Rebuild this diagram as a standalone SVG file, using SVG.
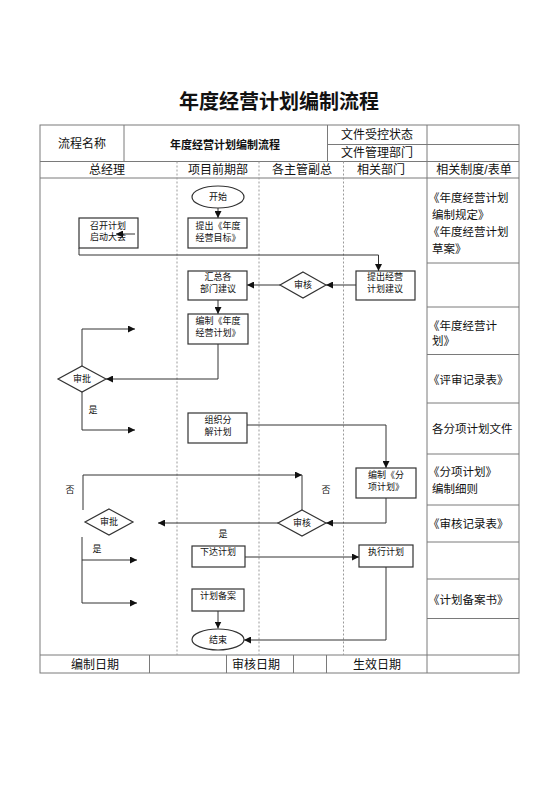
<svg xmlns="http://www.w3.org/2000/svg" width="560" height="792" viewBox="0 0 560 792">
<style>
text{font-family:"Liberation Sans","Noto Sans CJK SC",sans-serif;fill:#111;dominant-baseline:central;text-anchor:middle}
.t{stroke:#7a7a7a;stroke-width:1;fill:none}
.lane{stroke:#9a9a9a;stroke-width:1;stroke-dasharray:2 2;fill:none}
.h{font-size:12px}
.r{font-size:11.5px;text-anchor:start}
.n{font-size:9px}
.box{fill:#fff;stroke:#333;stroke-width:1.2}
.c{stroke:#333;stroke-width:1;fill:none}
.ca{stroke:#333;stroke-width:1;fill:none;marker-end:url(#ah)}
</style>
<defs>
<marker id="ah" viewBox="0 0 10 10" refX="10" refY="5" markerWidth="7" markerHeight="7" markerUnits="userSpaceOnUse" orient="auto"><path d="M0,0 L10,5 L0,10 z" fill="#111"/></marker>
</defs>
<rect width="560" height="792" fill="#fff"/>
<text x="279" y="102" style="font-size:20px;font-weight:bold">年度经营计划编制流程</text>
<g id="table">
<rect class="t" x="40" y="125" width="479" height="548"/>
<path class="t" d="M327.5,144.5H519 M40,161.5H519 M40,178H519 M40,655H519 M124,125V161.5 M327.5,125V161.5 M427,125V673 M149.5,655V673 M226.5,655V673 M293.5,655V673 M326.5,655V673"/>
<path class="t" d="M427,263H519 M427,307H519 M427,354.5H519 M427,403H519 M427,454H519 M427,505H519 M427,542H519 M427,579H519 M427,618.5H519"/>
<path class="lane" d="M177,161.5V655 M259,161.5V655 M343.5,161.5V655"/>
<text class="h" x="82" y="144">流程名称</text>
<text x="225" y="145" style="font-size:11px;font-weight:bold">年度经营计划编制流程</text>
<text class="h" x="377" y="135">文件受控状态</text>
<text class="h" x="377" y="153">文件管理部门</text>
<text class="h" x="107" y="170">总经理</text>
<text class="h" x="218" y="170">项目前期部</text>
<text class="h" x="302" y="170">各主管副总</text>
<text class="h" x="381" y="170">相关部门</text>
<text class="h" x="474" y="170">相关制度/表单</text>
<text class="r" x="428" y="198">《年度经营计划</text>
<text class="r" x="432" y="215">编制规定》</text>
<text class="r" x="428" y="232">《年度经营计划</text>
<text class="r" x="432" y="249">草案》</text>
<text class="r" x="428" y="326">《年度经营计</text>
<text class="r" x="432" y="341">划》</text>
<text class="r" x="428" y="380">《评审记录表》</text>
<text class="r" x="432" y="429">各分项计划文件</text>
<text class="r" x="428" y="472">《分项计划》</text>
<text class="r" x="432" y="489">编制细则</text>
<text class="r" x="428" y="524">《审核记录表》</text>
<text class="r" x="428" y="600">《计划备案书》</text>
<text class="h" x="95" y="665">编制日期</text>
<text class="h" x="256" y="665">审核日期</text>
<text class="h" x="377" y="665">生效日期</text>
</g>
<g id="connectors">
<path class="ca" d="M218,208V218"/>
<path class="ca" d="M135,234H116"/>
<path class="ca" d="M79,248V255H378.5V271"/>
<path class="ca" d="M356,285H326"/>
<path class="ca" d="M280,285H247"/>
<path class="ca" d="M218,300V314"/>
<path class="ca" d="M218,344V379H106"/>
<path class="ca" d="M82,366V329H135"/>
<path class="ca" d="M82,392V430H135"/>
<path class="ca" d="M247,425H386V468"/>
<path class="ca" d="M386,498V523H326"/>
<path class="ca" d="M278,523H158"/>
<path class="ca" d="M83,510V475H302"/>
<path class="c" d="M302,475V510"/>
<path class="ca" d="M82,537V603H137"/>
<path class="ca" d="M82,560H137"/>
<path class="ca" d="M245,557H359"/>
<path class="ca" d="M386,567V640H244"/>
<path class="ca" d="M218,611V628.5"/>
<text class="n" x="93" y="410">是</text>
<text class="n" x="70" y="490">否</text>
<text class="n" x="326" y="490">否</text>
<text class="n" x="223" y="534">是</text>
<text class="n" x="97" y="549">是</text>
</g>
<g id="start"><ellipse class="box" cx="218" cy="197" rx="26" ry="11"/><text class="n" x="218" y="197">开始</text></g>
<g id="n1"><rect class="box" x="79" y="218" width="59" height="30" style="fill:none"/><text class="n" x="108" y="226">召开计划</text><text class="n" x="108" y="237">启动大会</text></g>
<g id="n2"><rect class="box" x="188" y="218" width="59" height="30"/><text class="n" x="218" y="226">提出《年度</text><text class="n" x="218" y="238">经营目标》</text></g>
<g id="n3"><rect class="box" x="356" y="271" width="59" height="29"/><text class="n" x="385" y="277">提出经营</text><text class="n" x="385" y="289">计划建议</text></g>
<g id="d1"><polygon class="box" points="303,272 326,285 303,298 280,285"/><text class="n" x="303" y="285">审核</text></g>
<g id="n4"><rect class="box" x="188" y="271" width="59" height="29"/><text class="n" x="218" y="277">汇总各</text><text class="n" x="218" y="289">部门建议</text></g>
<g id="n5"><rect class="box" x="188" y="314" width="60" height="30"/><text class="n" x="218" y="321">编制《年度</text><text class="n" x="218" y="333">经营计划》</text></g>
<g id="d2"><polygon class="box" points="82,366 106,379 82,392 58,379"/><text class="n" x="82" y="379">审批</text></g>
<g id="n6"><rect class="box" x="188" y="413" width="59" height="30"/><text class="n" x="218" y="420">组织分</text><text class="n" x="218" y="432">解计划</text></g>
<g id="n7"><rect class="box" x="356" y="468" width="60" height="30"/><text class="n" x="386" y="475">编制《分</text><text class="n" x="386" y="487">项计划》</text></g>
<g id="d3"><polygon class="box" points="302,510 326,523 302,536 278,523"/><text class="n" x="302" y="523">审核</text></g>
<g id="d4"><polygon class="box" points="109,509 133,522 109,535 85,522"/><text class="n" x="109" y="522">审批</text></g>
<g id="n8"><rect class="box" x="192" y="546" width="53" height="21"/><text class="n" x="218" y="552">下达计划</text></g>
<g id="n9"><rect class="box" x="359" y="545" width="54" height="22"/><text class="n" x="386" y="552">执行计划</text></g>
<g id="n10"><rect class="box" x="192" y="589" width="52" height="22"/><text class="n" x="218" y="596">计划备案</text></g>
<g id="end"><ellipse class="box" cx="218" cy="639.5" rx="26" ry="10.5"/><text class="n" x="218" y="639.5">结束</text></g>
</svg>
